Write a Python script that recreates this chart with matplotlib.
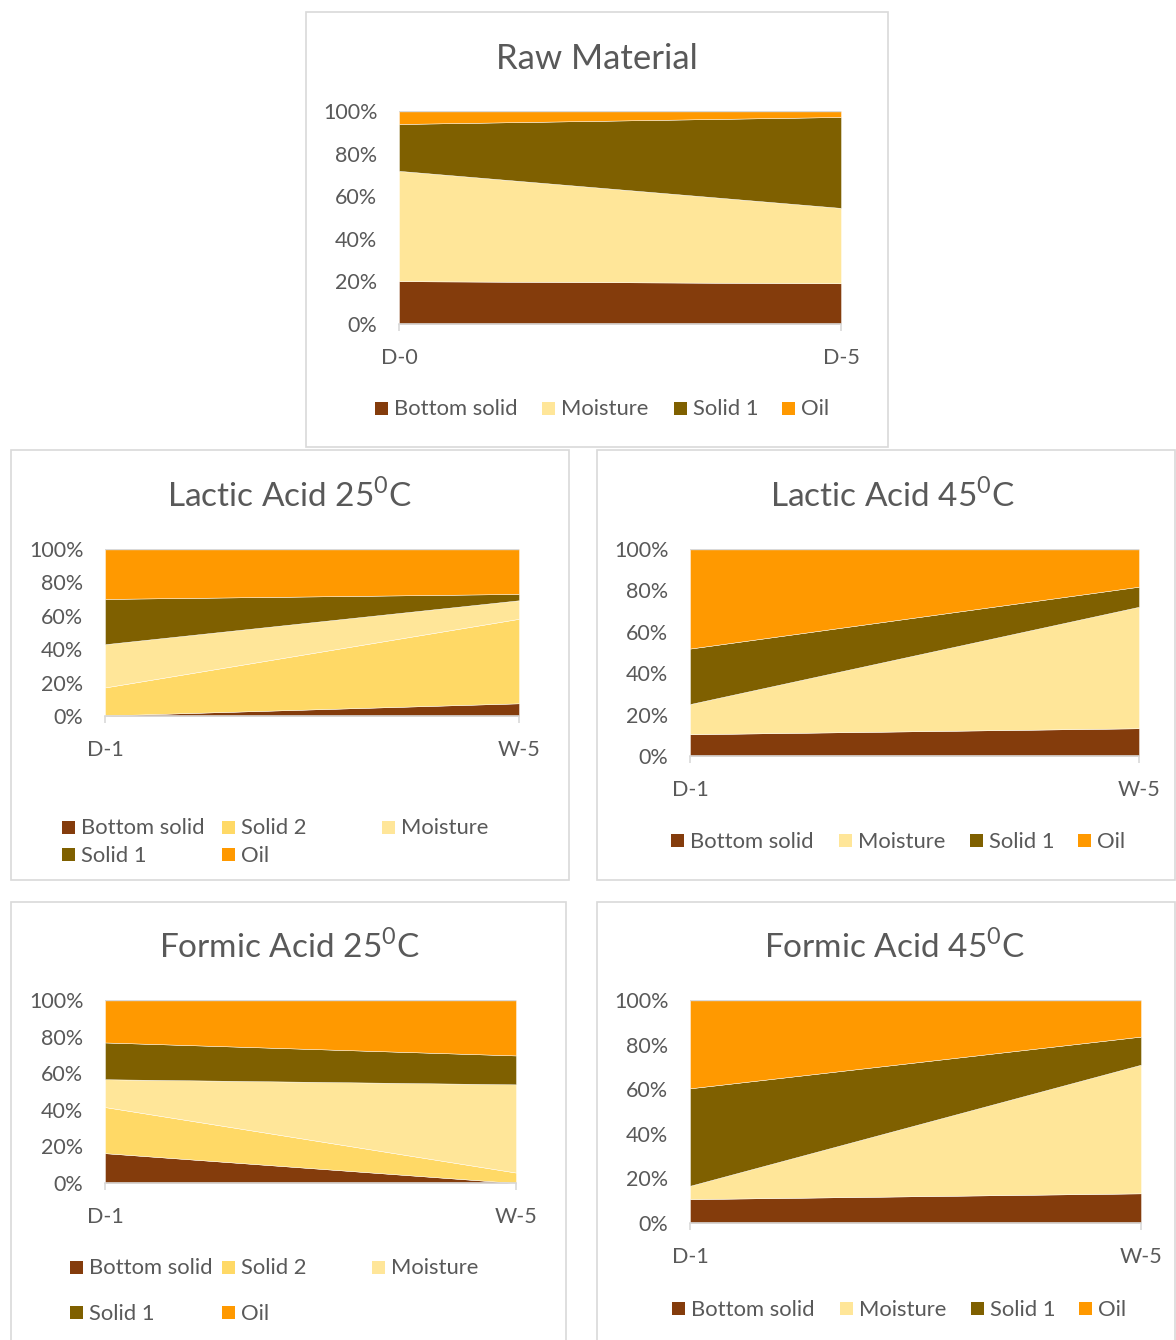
"""
Composición de masa por fracción: materia prima y tratamientos ácidos
"""
import matplotlib.pyplot as plt
from matplotlib.patches import Rectangle
from matplotlib.ticker import FuncFormatter

plt.rcParams['font.family'] = ['Lato', 'DejaVu Sans']
plt.rcParams['mathtext.fontset'] = 'custom'
plt.rcParams['mathtext.rm'] = 'Lato'

W, H = 1176, 1340

# Categorías del eje x
raw_days = ['D-0', 'D-5']
trt_days = ['D-1', 'W-5']

# Materia prima (%)
raw_bottom = [20.1, 19.1]
raw_moisture = [51.8, 35.4]
raw_solid1 = [22.0, 42.7]
raw_oil = [6.1, 2.8]

# Ácido láctico 25 ºC (%)
la25_bottom = [0.3, 7.6]
la25_solid2 = [16.8, 50.6]
la25_moisture = [25.9, 11.1]
la25_solid1 = [27.1, 3.8]
la25_oil = [29.9, 26.9]

# Ácido láctico 45 ºC (%)
la45_bottom = [10.5, 13.4]
la45_moisture = [14.6, 58.7]
la45_solid1 = [26.8, 9.7]
la45_oil = [48.1, 18.2]

# Ácido fórmico 25 ºC (%)
fa25_bottom = [16.3, 0.0]
fa25_solid2 = [25.2, 5.7]
fa25_moisture = [15.2, 48.2]
fa25_solid1 = [20.1, 15.8]
fa25_oil = [23.2, 30.3]

# Ácido fórmico 45 ºC (%)
fa45_bottom = [10.7, 13.3]
fa45_moisture = [6.0, 57.7]
fa45_solid1 = [43.7, 12.6]
fa45_oil = [39.6, 16.4]

COLORS = {
    'Bottom solid': '#843C0C',
    'Solid 2': '#FFD966',
    'Moisture': '#FFE699',
    'Solid 1': '#7F6000',
    'Oil': '#FF9900',
}
TEXT = '#595959'
GRID = '#D9D9D9'


def px_axes(fig, x0, y0, x1, y1):
    """Crea ejes a partir de coordenadas en píxeles (origen arriba a la izquierda)"""
    return fig.add_axes([x0 / W, 1 - y1 / H, (x1 - x0) / W, (y1 - y0) / H])


def panel_box(fig, x0, y0, x1, y1):
    fig.patches.append(Rectangle((x0 / W, 1 - y1 / H), (x1 - x0) / W, (y1 - y0) / H,
                                 transform=fig.transFigure, fill=False,
                                 edgecolor=GRID, linewidth=1.2))


def legend_items(fig, items):
    """Dibuja cada entrada de leyenda: cuadro de color y texto"""
    s = 13
    for label, x, y in items:
        fig.patches.append(Rectangle((x / W, 1 - (y + s / 2) / H), s / W, s / H,
                                     transform=fig.transFigure,
                                     facecolor=COLORS[label], edgecolor='none'))
        fig.text((x + s + 6) / W, 1 - (y + 1.5) / H, label, fontsize=15.8,
                 color=TEXT, ha='left', va='center')


def area_panel(fig, rect, title, title_xy, days, series, labels, title_size=25):
    ax = px_axes(fig, *rect)
    x = list(range(len(days)))
    ax.stackplot(x, *series, colors=[COLORS[l] for l in labels],
                 edgecolor='white', linewidth=0.3)
    ax.set_xlim(0, len(days) - 1)
    ax.set_ylim(0, 100)
    ax.set_yticks(range(0, 101, 20))
    ax.yaxis.set_major_formatter(FuncFormatter(lambda v, p: f'{v:.0f}%'))
    ax.set_xticks(x)
    ax.set_xticklabels(days)
    ax.axhline(100, color=GRID, linewidth=1)
    for side in ['top', 'left', 'right']:
        ax.spines[side].set_visible(False)
    ax.spines['bottom'].set_color(GRID)
    ax.spines['bottom'].set_linewidth(1.2)
    ax.tick_params(axis='y', length=0, pad=15.5, labelsize=15.5, labelcolor=TEXT)
    ax.tick_params(axis='x', length=5, width=1.2, color=GRID, pad=12,
                   labelsize=15.5, labelcolor=TEXT)
    fig.text(title_xy[0] / W, 1 - (title_xy[1] + 2) / H, title, fontsize=title_size,
             color=TEXT, ha='center', va='center')
    return ax


fig = plt.figure(figsize=(W / 100, H / 100), dpi=100)

# Materia prima
panel_box(fig, 306, 12, 888, 447)
area_panel(fig, (399, 111, 841, 324), 'Raw Material', (597, 57), raw_days,
           [raw_bottom, raw_moisture, raw_solid1, raw_oil],
           ['Bottom solid', 'Moisture', 'Solid 1', 'Oil'])
legend_items(fig, [('Bottom solid', 375, 408), ('Moisture', 542, 408),
                   ('Solid 1', 674, 408), ('Oil', 782, 408)])

# Ácido láctico 25
panel_box(fig, 11, 450, 569, 880)
area_panel(fig, (105, 549, 519, 716), r'Lactic Acid 25$^\mathrm{0}$C', (290, 494), trt_days,
           [la25_bottom, la25_solid2, la25_moisture, la25_solid1, la25_oil],
           ['Bottom solid', 'Solid 2', 'Moisture', 'Solid 1', 'Oil'], title_size=24)
legend_items(fig, [('Bottom solid', 62, 827), ('Solid 2', 222, 827),
                   ('Moisture', 382, 827), ('Solid 1', 62, 854), ('Oil', 222, 854)])

# Ácido láctico 45
panel_box(fig, 597, 450, 1175, 880)
area_panel(fig, (690, 549, 1139, 756), r'Lactic Acid 45$^\mathrm{0}$C', (893, 494), trt_days,
           [la45_bottom, la45_moisture, la45_solid1, la45_oil],
           ['Bottom solid', 'Moisture', 'Solid 1', 'Oil'], title_size=24)
legend_items(fig, [('Bottom solid', 671, 840), ('Moisture', 839, 840),
                   ('Solid 1', 970, 840), ('Oil', 1078, 840)])

# Ácido fórmico 25
panel_box(fig, 11, 902, 566, 1345)
area_panel(fig, (105, 1000, 516, 1183), r'Formic Acid 25$^\mathrm{0}$C', (289, 945), trt_days,
           [fa25_bottom, fa25_solid2, fa25_moisture, fa25_solid1, fa25_oil],
           ['Bottom solid', 'Solid 2', 'Moisture', 'Solid 1', 'Oil'], title_size=24)
legend_items(fig, [('Bottom solid', 70, 1267), ('Solid 2', 222, 1267),
                   ('Moisture', 372, 1267), ('Solid 1', 70, 1312), ('Oil', 222, 1312)])

# Ácido fórmico 45
panel_box(fig, 597, 902, 1175, 1345)
area_panel(fig, (690, 1000, 1141, 1223), r'Formic Acid 45$^\mathrm{0}$C', (894, 945), trt_days,
           [fa45_bottom, fa45_moisture, fa45_solid1, fa45_oil],
           ['Bottom solid', 'Moisture', 'Solid 1', 'Oil'], title_size=24)
legend_items(fig, [('Bottom solid', 672, 1308), ('Moisture', 840, 1308),
                   ('Solid 1', 971, 1308), ('Oil', 1079, 1308)])

plt.savefig('out.png', dpi=100)
plt.close()
